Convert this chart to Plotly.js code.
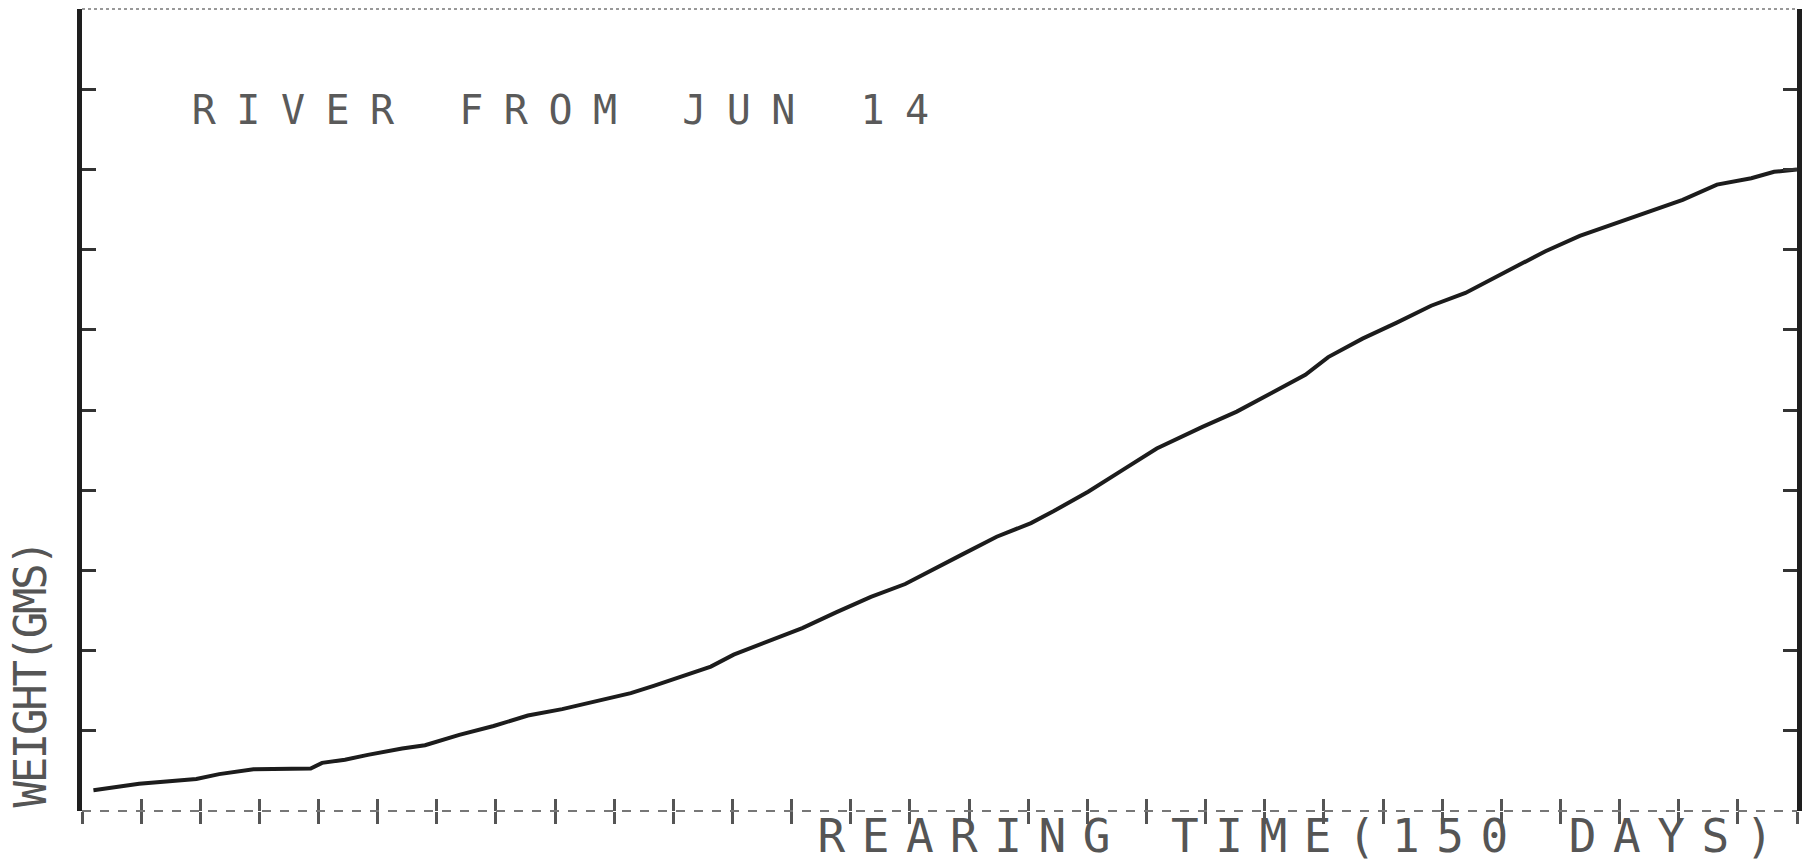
<!DOCTYPE html>
<html>
<head>
<meta charset="utf-8">
<script src="https://cdn.plot.ly/plotly-3.0.1.min.js"></script>
<style>html,body{margin:0;padding:0;background:#fff;}#chart{width:1802px;height:866px;}</style>
</head>
<body>
<div id="chart"></div>
<script>
// Rearing day (x) and fish weight in grams (y)
const days = [1, 5, 10, 12, 15, 20, 21, 23, 25, 28, 30, 33, 36, 39, 42, 46, 48, 50, 53, 55, 57, 60, 63, 66, 69, 72, 75, 77, 80, 83, 85, 88, 91, 94, 98, 101, 104, 107, 109, 112, 115, 118, 121, 124, 128, 131, 134, 137, 140, 143, 146, 148, 150];
const weights = [0.26, 0.34, 0.40, 0.46, 0.52, 0.53, 0.60, 0.64, 0.70, 0.78, 0.82, 0.95, 1.06, 1.19, 1.27, 1.41, 1.47, 1.56, 1.70, 1.80, 1.95, 2.11, 2.28, 2.48, 2.67, 2.83, 3.06, 3.20, 3.42, 3.59, 3.74, 3.98, 4.25, 4.52, 4.79, 4.98, 5.21, 5.44, 5.66, 5.89, 6.09, 6.30, 6.46, 6.68, 6.98, 7.17, 7.32, 7.46, 7.62, 7.81, 7.89, 7.97, 8.00];

const titleText = "RIVER FROM JUN 14";
const xTitleText = "REARING TIME(150 DAYS)";
const yTitleText = "WEIGHT(GMS)";

const totalDays = 150;
const xRange = [0, totalDays];
const yRange = [0, 10];

const traces = [
  {
    x: days, y: weights, type: 'scatter', mode: 'lines',
    line: {color: '#1c1c1c', width: 4, shape: 'linear'},
    hoverinfo: 'skip', showlegend: false
  },
  {
    x: [null], y: [null], xaxis: 'x2', type: 'scatter', mode: 'lines',
    hoverinfo: 'skip', showlegend: false
  }
];

const mono = 'DejaVu Sans Mono, monospace';

const layout = {
  width: 1802, height: 866,
  margin: {l: 82, r: 5, t: 9, b: 55},
  paper_bgcolor: '#ffffff', plot_bgcolor: '#ffffff',
  showlegend: false,
  xaxis: {
    range: xRange, tick0: 0, dtick: totalDays / 29,
    showgrid: false, zeroline: false, showline: false,
    ticks: 'inside', ticklen: 12, tickwidth: 3, tickcolor: '#555',
    showticklabels: false, fixedrange: true
  },
  xaxis2: {
    overlaying: 'x', anchor: 'y', side: 'bottom',
    range: xRange, tick0: 0, dtick: totalDays / 29,
    showgrid: false, zeroline: false, showline: false,
    ticks: 'outside', ticklen: 12, tickwidth: 3, tickcolor: '#555',
    showticklabels: false, fixedrange: true
  },
  yaxis: {
    range: yRange, dtick: 1,
    showgrid: false, zeroline: false,
    showline: true, linewidth: 5, linecolor: '#1e1e1e', mirror: 'ticks',
    ticks: 'inside', ticklen: 14, tickwidth: 3, tickcolor: '#333',
    showticklabels: false, fixedrange: true
  },
  shapes: [
    {type: 'line', xref: 'paper', yref: 'paper', x0: 0, x1: 1, y0: 0, y1: 0,
     line: {color: '#777', width: 2, dash: 'dash'}},
    {type: 'line', xref: 'paper', yref: 'paper', x0: 0, x1: 1, y0: 1, y1: 1,
     line: {color: '#999', width: 2, dash: 'dot'}}
  ],
  annotations: [
    {text: titleText, xref: 'paper', yref: 'paper', x: 0.2850, y: 0.874,
     xanchor: 'center', yanchor: 'middle', showarrow: false,
     font: {family: mono, size: 40, color: '#5a5a5a'}},
    {text: xTitleText, xref: 'paper', yref: 'paper', x: 0.712, y: -0.031,
     xanchor: 'center', yanchor: 'middle', showarrow: false,
     font: {family: mono, size: 46, color: '#555'}},
    {text: yTitleText, xref: 'paper', yref: 'paper', x: -0.0300, y: 0.170,
     xanchor: 'center', yanchor: 'middle', showarrow: false, textangle: -90,
     font: {family: mono, size: 44, color: '#555'}}
  ]
};

Plotly.newPlot('chart', traces, layout, {staticPlot: true, displayModeBar: false}).then(function(gd){
  const spacing = [20.5, 16.5, -2.3];
  gd.querySelectorAll('.annotation').forEach(function(g, i){
    const t = g.querySelector('text.annotation-text');
    if (t && spacing[i] !== undefined) t.style.letterSpacing = spacing[i] + 'px';
  });
});
</script>
</body>
</html>
